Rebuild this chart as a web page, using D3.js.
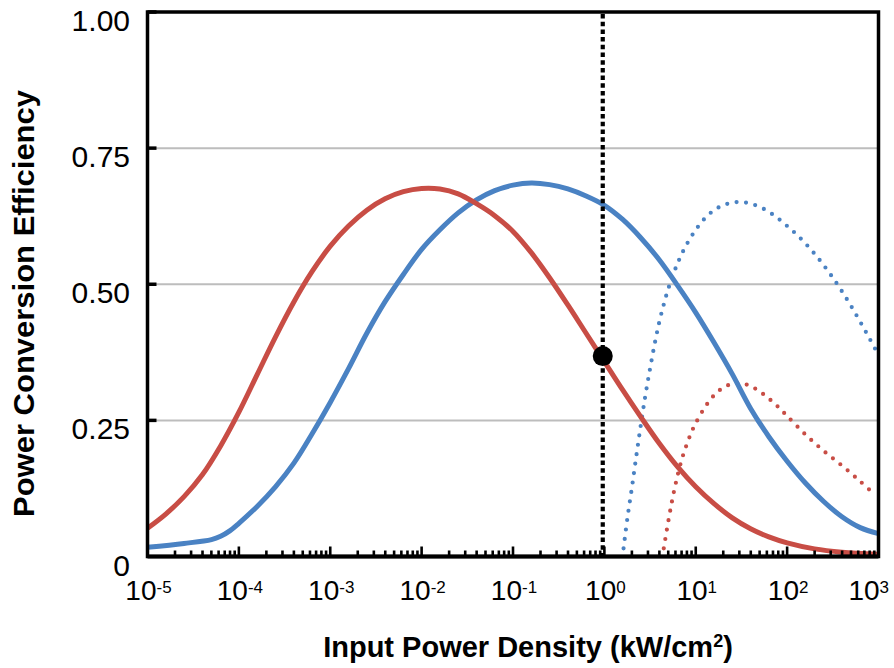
<!DOCTYPE html>
<html><head><meta charset="utf-8">
<script src="https://cdn.jsdelivr.net/npm/d3@7"></script>
<style>html,body{margin:0;padding:0;background:#fff}svg{display:block;font-family:"Liberation Sans",Arial,Helvetica,sans-serif}</style>
</head><body><svg id="c" width="894" height="668"></svg>
<script>
// ---- data (x as log10 of input power density in kW/cm^2) ----
const redSolidLogX = [-5.0,-4.8,-4.6,-4.4,-4.2,-4.0,-3.8,-3.6,-3.4,-3.2,-3.0,-2.8,-2.6,-2.4,-2.2,-2.0,-1.8,-1.6,-1.4,-1.2,-1.0,-0.8,-0.6,-0.4,-0.2,0.0,0.2,0.4,0.6,0.8,1.0,1.2,1.4,1.6,1.8,2.0,2.3,2.6,3.0];
const redSolidEff  = [0.052,0.078,0.110,0.150,0.203,0.265,0.334,0.403,0.467,0.523,0.570,0.607,0.636,0.657,0.670,0.676,0.675,0.666,0.648,0.626,0.597,0.558,0.512,0.462,0.410,0.358,0.306,0.256,0.208,0.165,0.128,0.097,0.071,0.051,0.036,0.025,0.014,0.008,0.004];

const blueSolidLogX = [-5.0,-4.6,-4.3,-4.2,-4.1,-4.0,-3.8,-3.6,-3.4,-3.2,-3.0,-2.8,-2.6,-2.4,-2.2,-2.0,-1.8,-1.6,-1.4,-1.2,-1.0,-0.8,-0.6,-0.4,-0.2,0.0,0.2,0.4,0.6,0.8,1.0,1.2,1.4,1.6,1.8,2.0,2.2,2.4,2.6,2.8,3.0];
const blueSolidEff  = [0.017,0.024,0.031,0.037,0.047,0.061,0.092,0.128,0.171,0.225,0.283,0.345,0.410,0.468,0.518,0.564,0.600,0.631,0.655,0.672,0.682,0.686,0.683,0.675,0.662,0.645,0.619,0.585,0.545,0.498,0.448,0.393,0.335,0.272,0.220,0.175,0.135,0.101,0.073,0.053,0.042];

const blueDotLogX = [0.21,0.25,0.30,0.35,0.40,0.45,0.50,0.55,0.60,0.65,0.70,0.80,0.90,1.00,1.10,1.20,1.30,1.40,1.50,1.60,1.70,1.80,1.90,2.00,2.10,2.20,2.30,2.40,2.50,2.60,2.70,2.80,2.90,3.00];
const blueDotEff  = [0.015,0.068,0.125,0.185,0.243,0.297,0.345,0.390,0.430,0.463,0.492,0.538,0.573,0.600,0.621,0.636,0.645,0.650,0.651,0.648,0.642,0.633,0.621,0.607,0.592,0.575,0.556,0.535,0.512,0.487,0.460,0.431,0.401,0.370];

const redDotLogX = [0.65,0.70,0.75,0.80,0.85,0.90,0.95,1.00,1.10,1.20,1.30,1.40,1.50,1.60,1.70,1.80,1.90,2.00,2.20,2.40,2.60,2.80,2.97];
const redDotEff  = [0.015,0.065,0.110,0.148,0.180,0.205,0.227,0.245,0.274,0.296,0.310,0.317,0.318,0.313,0.303,0.290,0.275,0.258,0.224,0.194,0.167,0.138,0.112];

const yTickValues = [0, 0.25, 0.5, 0.75, 1];
const yTickLabels = ["0", "0.25", "0.50", "0.75", "1.00"];
const xDecades = [-5, -4, -3, -2, -1, 0, 1, 2, 3];
const xTitleMain = "Input Power Density (kW/cm";
const xTitleSup = "2";
const xTitleEnd = ")";
const yTitle = "Power Conversion Efficiency";
const markerPower = 0.96, markerEff = 0.368;

const RED = "#c84d45", BLUE = "#4a82c3";

// ---- layout ----
const L = 147.5, R = 878.5, T = 12, B = 556.5;
const svg = d3.select("#c");
const x = d3.scaleLog().domain([1e-5, 1e3]).range([L, R]);
const y = d3.scaleLinear().domain([0, 1]).range([B, T]);

svg.append("defs").append("clipPath").attr("id","clip")
  .append("rect").attr("x",L).attr("y",T-2).attr("width",R-L).attr("height",B-T+2);

// grid
svg.append("g").selectAll("line").data(yTickValues.filter(v=>v>0 && v<1)).join("line")
  .attr("x1",L).attr("x2",R).attr("y1",d=>y(d)).attr("y2",d=>y(d))
  .attr("stroke","#bdbdbd").attr("stroke-width",2);

const zip = (a,b)=>a.map((v,i)=>[v,b[i]]);
const line = d3.line().x(d=>x(Math.pow(10,d[0]))).y(d=>y(d[1])).curve(d3.curveCatmullRom.alpha(0.5));
const plot = svg.append("g").attr("clip-path","url(#clip)");

plot.append("path").attr("d",line(zip(blueDotLogX,blueDotEff))).attr("fill","none")
  .attr("stroke",BLUE).attr("stroke-width",4.2).attr("stroke-linecap","round").attr("stroke-dasharray","0 9.5");
plot.append("path").attr("d",line(zip(redDotLogX,redDotEff))).attr("fill","none")
  .attr("stroke",RED).attr("stroke-width",4.2).attr("stroke-linecap","round").attr("stroke-dasharray","0 9.5");
plot.append("path").attr("d",line(zip(blueSolidLogX,blueSolidEff))).attr("fill","none")
  .attr("stroke",BLUE).attr("stroke-width",5).attr("stroke-linejoin","round");
plot.append("path").attr("d",line(zip(redSolidLogX,redSolidEff))).attr("fill","none")
  .attr("stroke",RED).attr("stroke-width",5).attr("stroke-linejoin","round");

// vertical dotted marker line + dot
svg.append("line").attr("x1",x(markerPower)).attr("x2",x(markerPower))
  .attr("y1",y(1)+2).attr("y2",y(0))
  .attr("stroke","#000").attr("stroke-width",4.2).attr("stroke-dasharray","4.5 3.2");
svg.append("circle").attr("cx",x(markerPower)).attr("cy",y(markerEff)).attr("r",10).attr("fill","#000");

// frame
svg.append("rect").attr("x",L).attr("y",T).attr("width",R-L).attr("height",B-T)
  .attr("fill","none").attr("stroke","#000").attr("stroke-width",3.5);
svg.append("line").attr("x1",L).attr("x2",R).attr("y1",B).attr("y2",B)
  .attr("stroke","#000").attr("stroke-width",4);

// y ticks (inward)
svg.append("g").selectAll("line").data(yTickValues.filter(v=>v>0)).join("line")
  .attr("x1",L).attr("x2",L+9).attr("y1",d=>y(d)).attr("y2",d=>y(d))
  .attr("stroke","#000").attr("stroke-width",3.5);

// x ticks (inward, log minors)
const isMajor = t => Math.abs(Math.log10(t) - Math.round(Math.log10(t))) < 1e-6;
svg.append("g").selectAll("line").data(x.ticks().filter(t=>t>1e-5*1.01)).join("line")
  .attr("x1",d=>x(d)).attr("x2",d=>x(d)).attr("y1",B).attr("y2",d=>B-(isMajor(d)?10:6))
  .attr("stroke","#000").attr("stroke-width",2.6);

// y tick labels
svg.append("g").selectAll("text").data(yTickValues).join("text")
  .attr("x",130).attr("y",d=>y(d)+19).attr("text-anchor","end")
  .attr("font-size",30).attr("fill","#000")
  .text((d,i)=>yTickLabels[i]);

// x tick labels 10^n
const xl = svg.append("g").selectAll("text").data(xDecades).join("text")
  .attr("x",(d,i)=> i===xDecades.length-1 ? 889 : x(Math.pow(10,d))+1)
  .attr("y",600)
  .attr("text-anchor",(d,i)=> i===xDecades.length-1 ? "end" : "middle")
  .attr("fill","#000");
xl.append("tspan").attr("font-size",28).text("10");
xl.append("tspan").attr("font-size",17).attr("dy",-7).text(d=>String(d));

// axis titles
const xt = svg.append("text").attr("x",528).attr("y",657).attr("text-anchor","middle")
  .attr("font-size",29).attr("font-weight","bold").attr("fill","#000");
xt.append("tspan").text(xTitleMain);
xt.append("tspan").attr("font-size",18).attr("dy",-10).text(xTitleSup);
xt.append("tspan").attr("dy",10).text(xTitleEnd);

svg.append("text").attr("transform","translate(34,303.5) rotate(-90)")
  .attr("text-anchor","middle").attr("font-size",29).attr("font-weight","bold")
  .attr("textLength",427).attr("lengthAdjust","spacingAndGlyphs")
  .attr("fill","#000").text(yTitle);
</script></body></html>
